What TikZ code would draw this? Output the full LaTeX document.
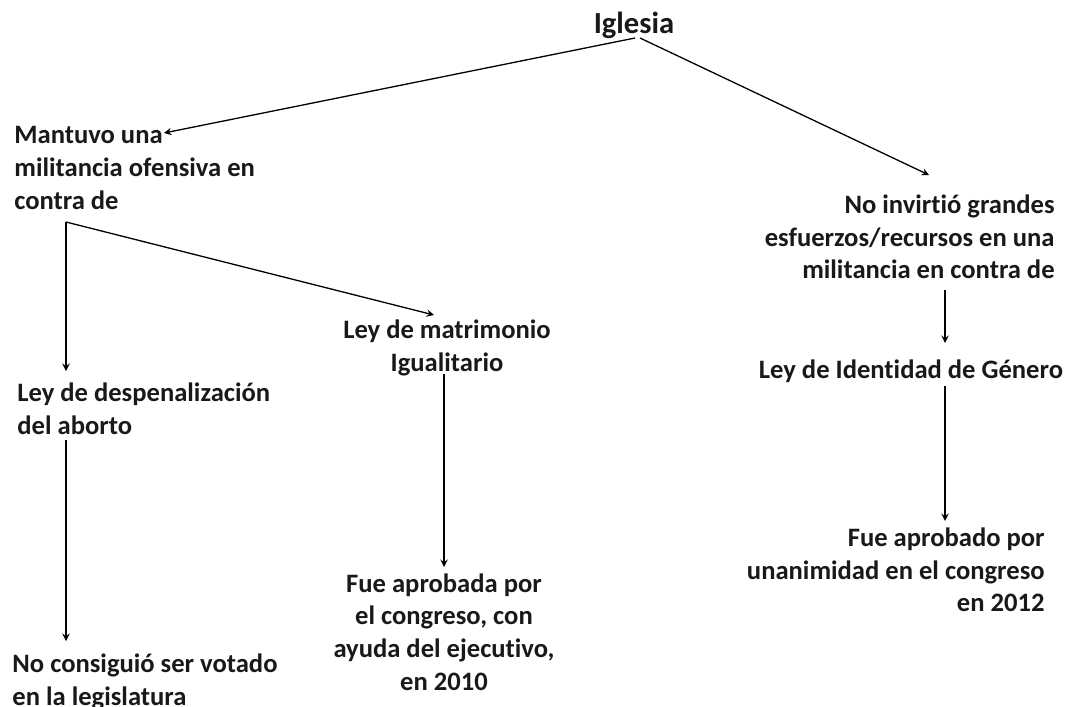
\documentclass[tikz,border=0pt]{standalone}
\usepackage{fontspec}
\setmainfont[Ligatures=NoCommon]{Carlito}
\usepackage{tikz}
\usetikzlibrary{arrows,positioning}

\begin{document}
\begin{tikzpicture}[
    x=0.5pt, y=-0.5pt,
    label/.style={font=\bfseries\fontsize{13.3}{16.3}\selectfont, inner sep=0pt, text=black!90},
    root/.style={font=\bfseries\fontsize{15.3}{18}\selectfont, inner sep=0pt, text=black!90},
    arrow/.style={->, >=stealth, line width=0.65pt}
]
    \useasboundingbox (0,0) rectangle (1067,707);
    % Root and first level
    \node[root, anchor=base] (iglesia) at (634,33) {Iglesia};
    \node[label, anchor=west, align=left] (mantuvo) at (14,168) {Mantuvo una\\militancia ofensiva en\\contra de};
    \node[label, anchor=east, align=right] (noinvirtio) at (1055,237) {No invirtió grandes\\esfuerzos/recursos en una\\militancia en contra de};

    % Laws
    \node[label, anchor=west, align=left] (aborto) at (17,409) {Ley de despenalización\\del aborto};
    \node[label, align=center] (matrimonio) at (447,348) {Ley de matrimonio\\Igualitario};
    \node[label] (identidad) at (911,371) {Ley de Identidad de Género};

    % Outcomes
    \node[label, anchor=west, align=left] (noconsiguio) at (12,682) {No consiguió ser votado\\en la legislatura};
    \node[label, align=center] (aprobada) at (444,632) {Fue aprobada por\\el congreso, con\\ayuda del ejecutivo,\\en 2010};
    \node[label, anchor=east, align=right] (aprobado) at (1045,570) {Fue aprobado por\\unanimidad en el congreso\\en 2012};

    % Connector ends
    \coordinate (iglesiaL) at (635,38);
    \coordinate (iglesiaR) at (640,38);
    \coordinate (mantuvoIn) at (164,133);
    \coordinate (noinvirtioIn) at (929,175);
    \coordinate (split) at (66,222);
    \coordinate (abortoIn) at (66,371);
    \coordinate (abortoOut) at (66,440);
    \coordinate (noconsiguioIn) at (66,641);
    \coordinate (matrimonioIn) at (434,315);
    \coordinate (matrimonioOut) at (444,374);
    \coordinate (aprobadaIn) at (444,567);
    \coordinate (noinvirtioOut) at (945,290);
    \coordinate (identidadIn) at (945,343);
    \coordinate (identidadOut) at (945,386);
    \coordinate (aprobadoIn) at (945,521);

    % Relationships
    \draw[arrow] (iglesiaL) -- (mantuvoIn);
    \draw[arrow] (iglesiaR) -- (noinvirtioIn);
    \draw[arrow] (split) -- (abortoIn);
    \draw[arrow] (split) -- (matrimonioIn);
    \draw[arrow] (abortoOut) -- (noconsiguioIn);
    \draw[arrow] (matrimonioOut) -- (aprobadaIn);
    \draw[arrow] (noinvirtioOut) -- (identidadIn);
    \draw[arrow] (identidadOut) -- (aprobadoIn);
\end{tikzpicture}
\end{document}
